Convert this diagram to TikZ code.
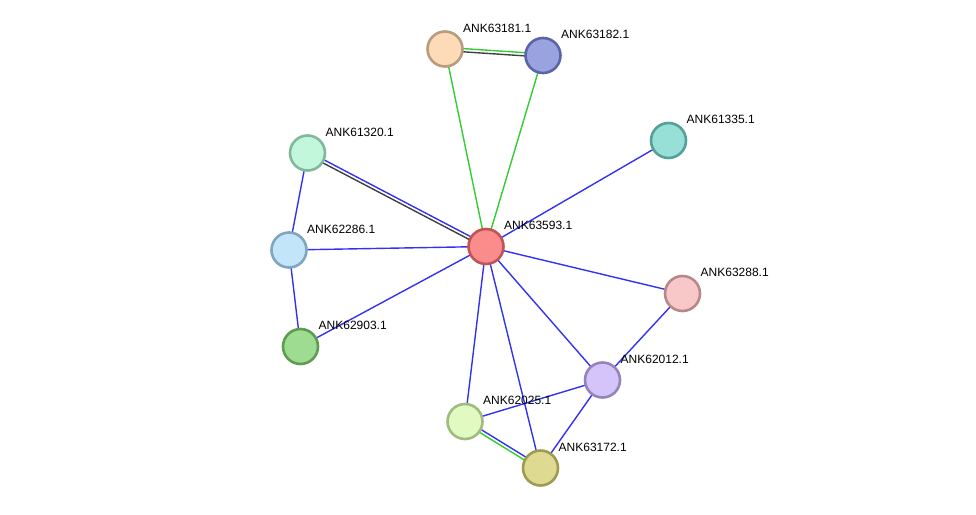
\documentclass[tikz,border=0pt]{standalone}
\usepackage{fontspec}
\setmainfont{Liberation Sans}
\usetikzlibrary{calc,backgrounds}
\definecolor{eblue}{HTML}{3232F0}
\definecolor{egreen}{HTML}{33CC33}
\definecolor{egrey}{HTML}{404040}
\tikzset{
  prot/.style={circle,minimum size=35pt,inner sep=0pt,line width=2.6pt},
  lbl/.style={anchor=west,font=\fontsize{12pt}{13pt}\selectfont,inner sep=0pt,text=black},
  ed/.style={line width=1.4pt},
}
\newcommand{\protnode}[6]{%
  \definecolor{f#1}{HTML}{#4}\definecolor{b#1}{HTML}{#5}%
  \node[prot,fill=f#1,draw=b#1] (#1) at (#2,#3) {};
  \node[lbl] (l#1) at (#2+18,#3-21) {#6};
}
\newcommand{\dbl}[4]{%
  \draw[ed,#3] ($(#1.center)!1.6pt!90:(#2.center)$) -- ($(#2.center)!1.6pt!-90:(#1.center)$);
  \draw[ed,#4] ($(#1.center)!1.6pt!-90:(#2.center)$) -- ($(#2.center)!1.6pt!90:(#1.center)$);
}
\begin{document}
\begin{tikzpicture}[x=1pt,y=-1pt]
\useasboundingbox (0,0) rectangle (976,514);
\protnode{a63181}{445}{49}{FDDBB8}{B89C80}{ANK63181.1}
\protnode{a63182}{543}{55.5}{9AA3E0}{5A64A8}{ANK63182.1}
\protnode{a61335}{668.5}{140.5}{96E0D8}{55A098}{ANK61335.1}
\protnode{a61320}{307.5}{153}{C2F7DC}{80B89A}{ANK61320.1}
\protnode{a63593}{486}{246.5}{FA8C8C}{C05454}{ANK63593.1}
\protnode{a62286}{289}{250}{C2E5FA}{80A6BE}{ANK62286.1}
\protnode{a63288}{682.5}{293.5}{F8C8C8}{B88888}{ANK63288.1}
\protnode{a62903}{300.5}{346.5}{9EDC92}{5E9C52}{ANK62903.1}
\protnode{a62012}{602.5}{380}{D4C4FA}{9484BA}{ANK62012.1}
\protnode{a62025}{465}{421.5}{E0FAC2}{A0BA80}{ANK62025.1}
\protnode{a63172}{540.5}{468}{DEDA92}{9E9A52}{ANK63172.1}
\begin{scope}[on background layer]
\dbl{a63181}{a63182}{egreen}{egrey}
\draw[ed,egreen] (a63181.center) -- (a63593.center);
\draw[ed,egreen] (a63182.center) -- (a63593.center);
\draw[ed,eblue] (a61335.center) -- (a63593.center);
\dbl{a61320}{a63593}{eblue}{egrey}
\draw[ed,eblue] (a61320.center) -- (a62286.center);
\draw[ed,eblue] (a62286.center) -- (a63593.center);
\draw[ed,eblue] (a62286.center) -- (a62903.center);
\draw[ed,eblue] (a62903.center) -- (a63593.center);
\draw[ed,eblue] (a63593.center) -- (a63288.center);
\draw[ed,eblue] (a63593.center) -- (a62012.center);
\draw[ed,eblue] (a63593.center) -- (a62025.center);
\draw[ed,eblue] (a63593.center) -- (a63172.center);
\draw[ed,eblue] (a63288.center) -- (a62012.center);
\draw[ed,eblue] (a62012.center) -- (a62025.center);
\draw[ed,eblue] (a62012.center) -- (a63172.center);
\dbl{a62025}{a63172}{eblue}{egreen}
\end{scope}
\end{tikzpicture}
\end{document}
